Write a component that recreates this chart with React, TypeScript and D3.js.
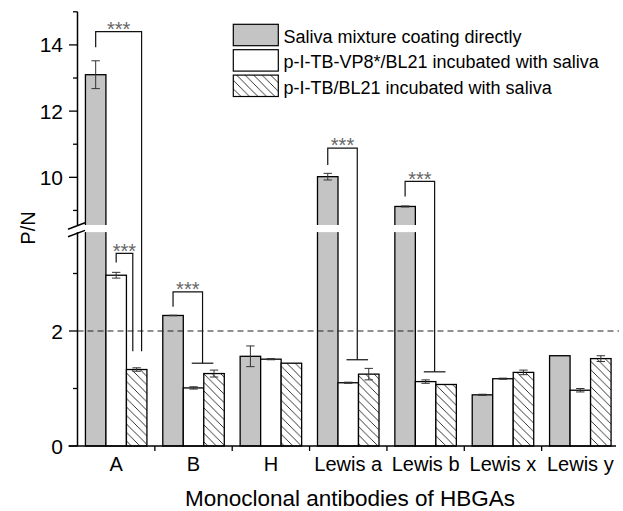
import React from "react";
import * as d3 from "d3";

const categories = ["A", "B", "H", "Lewis a", "Lewis b", "Lewis x", "Lewis y"];
const seriesNames = [
  "Saliva mixture coating directly",
  "p-I-TB-VP8*/BL21 incubated with saliva",
  "p-I-TB/BL21 incubated with saliva",
];
const salivaValues = [13.1, 2.27, 1.56, 10.02, 9.12, 0.89, 1.57];
const salivaErrors = [0.42, 0.005, 0.18, 0.1, 0.015, 0.01, 0.0];
const vp8Values = [2.97, 1.01, 1.51, 1.1, 1.12, 1.17, 0.97];
const vp8Errors = [0.05, 0.02, 0.01, 0.01, 0.03, 0.01, 0.03];
const tbValues = [1.33, 1.26, 1.44, 1.25, 1.07, 1.28, 1.52];
const tbErrors = [0.03, 0.06, 0.0, 0.1, 0.0, 0.04, 0.05];

const lowerTicks = [0, 2];
const lowerMinorTicks = [1, 3];
const upperTicks = [10, 12, 14];
const upperMinorTicks = [9, 11, 13, 15];
const thresholdValue = 2;

// significance brackets
const bracketCategory = [0, 0, 1, 3, 4];
const bracketFromBar = [0, 1, 0, 0, 0];
const bracketTop = [14.4, 3.35, 2.68, 10.88, 9.88];
const bracketLeftEnd = [13.93, 3.19, 2.42, 10.37, 9.42];
const bracketRightEnd = [1.65, 1.65, 1.44, 1.5, 1.29];
const bracketLabel = ["***", "***", "***", "***", "***"];

const W = 623;
const H = 511;
const FONT = "'Liberation Sans', Arial, sans-serif";

const axisX = 77.5;
const axisY = 446;
const plotRight = 619;
const lowerMax = 3.72;
const upperMin = 8.56;
const gapTop = 225;
const gapBottom = 232.1;

const rightLegOffset = [1.24, 0.81, 0.44, 0.44, 0.44];
const hasCap = [false, false, true, true, true];

export default function App() {
  const x = d3.scaleBand<string>().domain(categories).range([axisX, plotRight]).paddingInner(0).paddingOuter(0);
  const bw = x.bandwidth() * 0.265;
  const yLow = d3.scaleLinear().domain([0, lowerMax]).range([axisY, gapBottom]);
  const yUp = d3.scaleLinear().domain([upperMin, 15]).range([gapTop, 11.8]);
  const y = (v: number) => (v <= lowerMax ? yLow(v) : yUp(v));

  const series = [
    { values: salivaValues, errors: salivaErrors, fill: "#c4c4c4" },
    { values: vp8Values, errors: vp8Errors, fill: "#ffffff" },
    { values: tbValues, errors: tbErrors, fill: "url(#hatch)" },
  ];
  const barX = (ci: number, si: number) => (x(categories[ci]) as number) + x.bandwidth() / 2 - 1.5 * bw + si * bw;

  return (
    <svg width={W} height={H} style={{ position: "absolute", left: 0, top: 0, background: "#fff" }} fontFamily={FONT}>
      <defs>
        <pattern id="hatch" patternUnits="userSpaceOnUse" width={8.5} height={8.5}>
          <rect width={8.5} height={8.5} fill="#fff" />
          <path d="M0,0 L8.5,8.5 M-2,6.5 L2,10.5 M6.5,-2 L10.5,2" stroke="#000" strokeWidth={0.8} />
        </pattern>
      </defs>
      <rect width={W} height={H} fill="#fff" />

      {/* bars */}
      {series.map((s, si) =>
        s.values.map((v, ci) => {
          const bx = barX(ci, si);
          const top = y(v);
          return (
            <rect key={`b${si}-${ci}`} x={bx} y={top} width={bw} height={axisY - top} fill={s.fill} stroke="#000" strokeWidth={1.3} />
          );
        })
      )}

      {/* error bars */}
      {series.map((s, si) =>
        s.values.map((v, ci) => {
          const e = s.errors[ci];
          if (e <= 0) return null;
          const cx = barX(ci, si) + bw / 2;
          const y1 = y(v + e);
          const y2 = y(v - e);
          return (
            <g key={`e${si}-${ci}`} stroke="#333" strokeWidth={1}>
              <line x1={cx} x2={cx} y1={y1} y2={y2} />
              <line x1={cx - 4.2} x2={cx + 4.2} y1={y1} y2={y1} />
              <line x1={cx - 4.2} x2={cx + 4.2} y1={y2} y2={y2} />
            </g>
          );
        })
      )}

      {/* threshold line */}
      <line x1={axisX} x2={plotRight} y1={y(thresholdValue)} y2={y(thresholdValue)} stroke="#222" strokeWidth={1.2} strokeDasharray="6,4" />

      {/* axes */}
      <line x1={axisX} x2={axisX} y1={axisY} y2={yUp(15)} stroke="#000" strokeWidth={1.5} />
      <line x1={axisX - 9} x2={616} y1={axisY} y2={axisY} stroke="#000" strokeWidth={1.5} />
      {categories.map((c, i) =>
        i === 0 ? null : (
          <line key={`xt${i}`} x1={x(c) as number} x2={x(c) as number} y1={axisY} y2={axisY + 5} stroke="#000" strokeWidth={1.3} />
        )
      )}
      {categories.map((c) => (
        <text key={`xl${c}`} x={(x(c) as number) + x.bandwidth() / 2} y={471} textAnchor="middle" fontSize={20} fill="#000">
          {c}
        </text>
      ))}
      {lowerTicks.map((t) => (
        <g key={`lt${t}`}>
          <line x1={axisX - 8.5} x2={axisX} y1={yLow(t)} y2={yLow(t)} stroke="#000" strokeWidth={1.3} />
          <text x={63} y={yLow(t) + 7.5} textAnchor="end" fontSize={21}>{t}</text>
        </g>
      ))}
      {lowerMinorTicks.map((t) => (
        <line key={`lm${t}`} x1={axisX - 4.5} x2={axisX} y1={yLow(t)} y2={yLow(t)} stroke="#000" strokeWidth={1.3} />
      ))}
      {upperTicks.map((t) => (
        <g key={`ut${t}`}>
          <line x1={axisX - 8.5} x2={axisX} y1={yUp(t)} y2={yUp(t)} stroke="#000" strokeWidth={1.3} />
          <text x={63} y={yUp(t) + 7.5} textAnchor="end" fontSize={21}>{t}</text>
        </g>
      ))}
      {upperMinorTicks.map((t) => (
        <line key={`um${t}`} x1={axisX - 4.5} x2={axisX} y1={yUp(t)} y2={yUp(t)} stroke="#000" strokeWidth={1.3} />
      ))}

      {/* axis break */}
      <rect x={axisX - 3} y={gapTop} width={plotRight - axisX + 3} height={gapBottom - gapTop} fill="#fff" />
      <line x1={68} y1={229.2} x2={85} y2={222.8} stroke="#000" strokeWidth={1.5} />
      <line x1={68} y1={236.8} x2={85} y2={230.4} stroke="#000" strokeWidth={1.5} />

      {/* significance brackets */}
      {bracketCategory.map((ci, k) => {
        const cc = (x(categories[ci]) as number) + x.bandwidth() / 2;
        const lx = barX(ci, bracketFromBar[k]) + bw / 2;
        const rx = cc + rightLegOffset[k] * bw;
        const ty = y(bracketTop[k]);
        return (
          <g key={`br${k}`}>
            <path
              d={`M${lx},${y(bracketLeftEnd[k])} L${lx},${ty} L${rx},${ty} L${rx},${y(bracketRightEnd[k])}`}
              fill="none"
              stroke="#111"
              strokeWidth={1.2}
            />
            {hasCap[k] && (
              <line x1={rx - 10.8} x2={rx + 10.8} y1={y(bracketRightEnd[k])} y2={y(bracketRightEnd[k])} stroke="#111" strokeWidth={1.2} />
            )}
            <text x={(lx + rx) / 2} y={ty + 4.3} textAnchor="middle" fontSize={20} fill="#666">
              {bracketLabel[k]}
            </text>
          </g>
        );
      })}

      {/* legend */}
      {seriesNames.map((n, i) => {
        const top = 24.3 + i * 25.4;
        return (
          <g key={`lg${i}`}>
            <rect x={233.3} y={top} width={45} height={21.4} fill={series[i].fill} stroke="#000" strokeWidth={1.2} />
            <text x={283.5} y={top + 18.7} fontSize={18} fill="#000">{n}</text>
          </g>
        );
      })}

      {/* axis titles */}
      <text x={350} y={506} textAnchor="middle" fontSize={22.5}>Monoclonal antibodies of HBGAs</text>
      <text transform={`translate(35,228) rotate(-90)`} textAnchor="middle" fontSize={20}>P/N</text>
    </svg>
  );
}
